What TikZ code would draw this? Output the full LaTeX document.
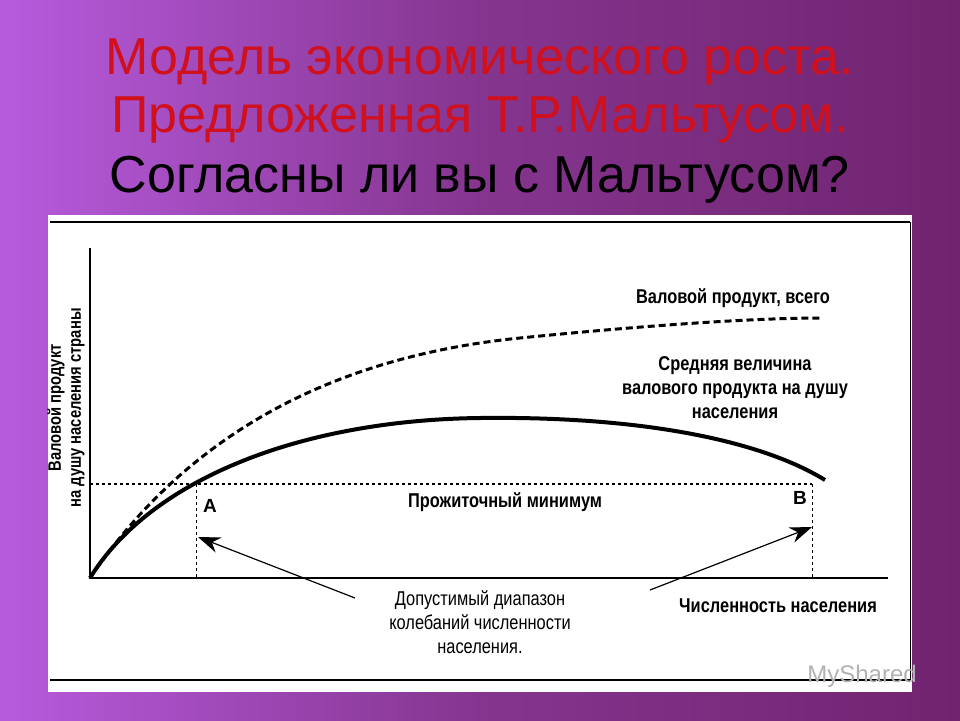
\documentclass[tikz,border=0pt]{standalone}
\usepackage{fontspec}
\setmainfont{Liberation Sans}
\newfontfamily\narrowf[FakeStretch=0.82]{Liberation Sans}
\usetikzlibrary{arrows.meta}
\definecolor{titred}{HTML}{D0101C}
\definecolor{bgl}{HTML}{B75BDD}
\definecolor{bgm}{HTML}{85358F}
\definecolor{bgr}{HTML}{70246F}
\begin{document}
\begin{tikzpicture}[x=1pt,y=-1pt,
  lbl/.style={font=\narrowf\bfseries\fontsize{20}{24}\selectfont, align=center, inner sep=0pt},
  ttl/.style={font=\fontsize{52}{56}\selectfont, inner sep=0pt},
  arr/.style={line width=1.2pt,-{Stealth[length=22pt,width=16pt]}}]
\useasboundingbox (0,0) rectangle (960,720);
\shade[left color=bgl, right color=bgr, middle color=bgm] (0,0) rectangle (960,720);
\fill[white] (48,215) rectangle (912,692);
\node[ttl,text=titred] (t1) at (480,62) {Модель экономического роста.};
\node[ttl,text=titred] (t2) at (480,120) {Предложенная Т.Р.Мальтусом.};
\node[ttl,text=black] (t3) at (480,180) {Согласны ли вы с Мальтусом?};
\draw[line width=1.5pt] (50,222) -- (910,222);
\draw[line width=1.5pt] (50,680) -- (910,680);
\draw[line width=1pt] (910,222) -- (910,680);
\coordinate (O) at (90,578);
\coordinate (Ytop) at (90,248);
\coordinate (Xend) at (888,578);
\draw[line width=1.2pt] (Ytop) -- (O) -- (Xend);
\node[lbl,rotate=90,font=\narrowf\bfseries\fontsize{18}{20}\selectfont] (ylab) at (66,408) {Валовой продукт\\на душу населения страны};
\coordinate (Lm) at (90,484);
\coordinate (Rm) at (812,484);
\coordinate (Ab) at (196,578);
\coordinate (Bb) at (812,578);
\draw[dashed,line width=1.2pt] (Lm) -- (Rm);
\draw[dashed,line width=1pt] (196,484) -- (Ab);
\draw[dashed,line width=1pt] (Rm) -- (Bb);
\draw[line width=4pt] (O) .. controls (150,480) and (300,420) .. (480,418) .. controls (640,416) and (760,440) .. (825,480);
\draw[line width=3pt,dash pattern=on 7pt off 4pt] (O) .. controls (170,460) and (300,360) .. (520,338) .. controls (660,324) and (760,318) .. (822,318);
\node[lbl] (gdp) at (733,298) {Валовой продукт, всего};
\node[lbl] (avg) at (735,388) {Средняя величина\\валового продукта на душу\\населения};
\node[lbl] (min) at (505,502) {Прожиточный минимум};
\node[lbl,font=\bfseries\fontsize{19}{20}\selectfont] (A) at (210,506) {А};
\node[lbl,font=\bfseries\fontsize{19}{20}\selectfont] (B) at (800,498) {В};
\node[lbl] (pop) at (778,606) {Численность населения};
\node[lbl,font=\narrowf\fontsize{20}{24}\selectfont] (rng) at (480,622) {Допустимый диапазон\\колебаний численности\\населения.};
\coordinate (ra) at (355,598);
\coordinate (rb) at (650,590);
\coordinate (ta) at (198,537);
\coordinate (tb) at (812,527);
\draw[arr] (ra) -- (ta);
\draw[arr] (rb) -- (tb);
\node[text=gray!60,font=\fontsize{24}{26}\selectfont] (wm) at (862,676) {MyShared};
\end{tikzpicture}
\end{document}
